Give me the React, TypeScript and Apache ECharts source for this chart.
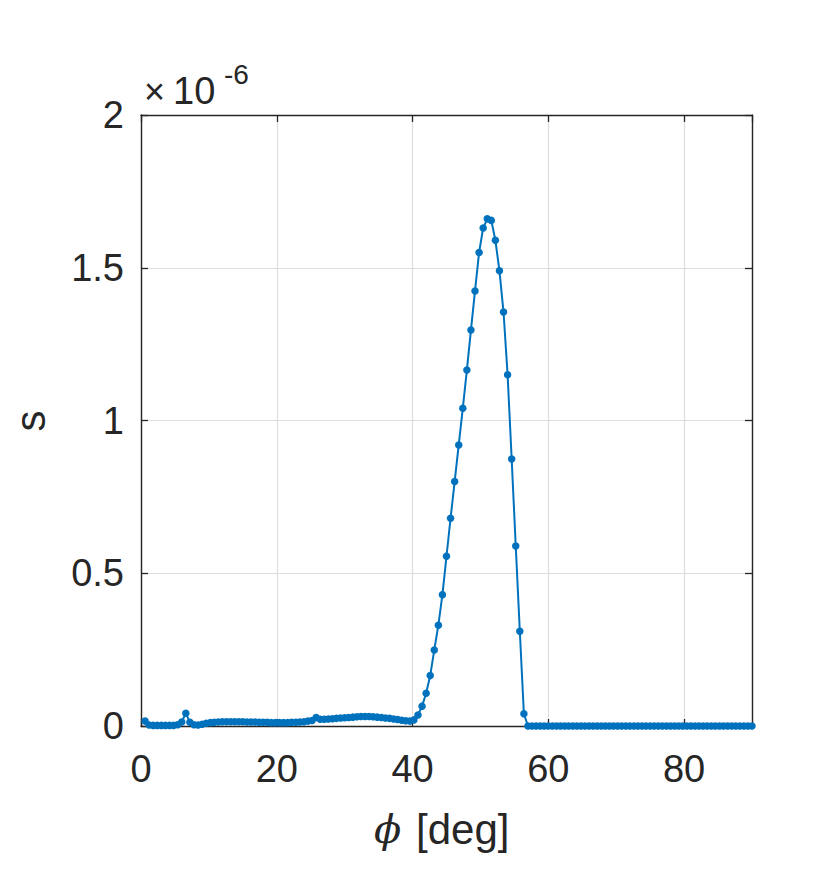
import React, { useEffect, useRef } from "react";
import * as echarts from "echarts";

// phi [deg]
const phiDeg: number[] = [
  0.6, 1.2, 1.8, 2.4, 3.0, 3.6, 4.2, 4.8, 5.4, 6.0,
  6.6, 7.2, 7.8, 8.4, 9.0, 9.6, 10.2, 10.8, 11.4, 12.0,
  12.6, 13.2, 13.8, 14.4, 15.0, 15.6, 16.2, 16.8, 17.4, 18.0,
  18.6, 19.2, 19.8, 20.4, 21.0, 21.6, 22.2, 22.8, 23.4, 24.0,
  24.6, 25.2, 25.8, 26.4, 27.0, 27.6, 28.2, 28.8, 29.4, 30.0,
  30.6, 31.2, 31.8, 32.4, 33.0, 33.6, 34.2, 34.8, 35.4, 36.0,
  36.6, 37.2, 37.8, 38.4, 39.0, 39.6, 40.2, 40.8, 41.4, 42.0,
  42.6, 43.2, 43.8, 44.4, 45.0, 45.6, 46.2, 46.8, 47.4, 48.0,
  48.6, 49.2, 49.8, 50.4, 51.0, 51.6, 52.2, 52.8, 53.4, 54.0,
  54.6, 55.2, 55.8, 56.4, 57.0, 57.6, 58.2, 58.8, 59.4, 60.0,
  60.6, 61.2, 61.8, 62.4, 63.0, 63.6, 64.2, 64.8, 65.4, 66.0,
  66.6, 67.2, 67.8, 68.4, 69.0, 69.6, 70.2, 70.8, 71.4, 72.0,
  72.6, 73.2, 73.8, 74.4, 75.0, 75.6, 76.2, 76.8, 77.4, 78.0,
  78.6, 79.2, 79.8, 80.4, 81.0, 81.6, 82.2, 82.8, 83.4, 84.0,
  84.6, 85.2, 85.8, 86.4, 87.0, 87.6, 88.2, 88.8, 89.4, 90.0,
];

// s, in units of 1e-6
const sValues: number[] = [
  0.016, 0.003, 0.002, 0.002, 0.002, 0.002, 0.002, 0.002, 0.004, 0.013,
  0.042, 0.012, 0.004, 0.003, 0.006, 0.009, 0.011, 0.012, 0.013, 0.014,
  0.014, 0.014, 0.014, 0.014, 0.014, 0.013, 0.013, 0.013, 0.012, 0.012,
  0.012, 0.011, 0.011, 0.011, 0.011, 0.011, 0.012, 0.012, 0.013, 0.014,
  0.016, 0.018, 0.028, 0.022, 0.022, 0.023, 0.024, 0.025, 0.026, 0.027,
  0.028, 0.029, 0.030, 0.031, 0.031, 0.031, 0.030, 0.029, 0.028, 0.026,
  0.025, 0.023, 0.021, 0.019, 0.017, 0.016, 0.020, 0.036, 0.065, 0.107,
  0.165, 0.249, 0.33, 0.43, 0.556, 0.68, 0.8, 0.92, 1.04, 1.165,
  1.296, 1.424, 1.55, 1.63, 1.66, 1.655, 1.59, 1.49, 1.355, 1.15,
  0.874, 0.589, 0.31, 0.04, 0, 0, 0, 0, 0, 0,
  0, 0, 0, 0, 0, 0, 0, 0, 0, 0,
  0, 0, 0, 0, 0, 0, 0, 0, 0, 0,
  0, 0, 0, 0, 0, 0, 0, 0, 0, 0,
  0, 0, 0, 0, 0, 0, 0, 0, 0, 0,
  0, 0, 0, 0, 0, 0, 0, 0, 0, 0,
];

const xTicks = { min: 0, max: 90, interval: 20 };
const yTicks = { min: 0, max: 2, interval: 0.5 };
const yExponentBase = "×";
const yExponentMantissa = "10";
const yExponent = "-6";
const xTitleSymbol = "ϕ";
const xTitleUnit = "[deg]";
const yTitle = "s";

const TEXT = "#262626";
const FONT = "'Liberation Sans', Arial, Helvetica, sans-serif";

export default function App() {
  const ref = useRef<HTMLDivElement>(null);
  useEffect(() => {
    if (!ref.current) return;
    const chart = echarts.init(ref.current, null, { renderer: "svg" });
    const axisLine = { show: true, onZero: false, lineStyle: { color: TEXT, width: 1.4 } };
    const axisTick = { show: true, inside: true, length: 7, lineStyle: { color: TEXT, width: 1.3 } };
    const splitLine = { show: true, lineStyle: { color: "#dedede", width: 1.2 } };
    const data = phiDeg.map((p, i) => [p, sValues[i]]);
    chart.setOption({
      animation: false,
      backgroundColor: "#ffffff",
      grid: { left: 141, top: 115, width: 611, height: 611, containLabel: false },
      xAxis: [
        {
          type: "value",
          position: "bottom",
          ...xTicks,
          axisLine,
          axisTick,
          splitLine,
          axisLabel: {
            show: true,
            margin: 24,
            color: TEXT,
            fontFamily: FONT,
            fontSize: 38,
            showMaxLabel: false,
            formatter: (v: number) => (v === 90 ? "" : String(v)),
          },
        },
        {
          type: "value",
          position: "top",
          ...xTicks,
          axisLine,
          axisTick,
          splitLine: { show: false },
          axisLabel: { show: false },
        },
      ],
      yAxis: [
        {
          type: "value",
          position: "left",
          ...yTicks,
          axisLine,
          axisTick,
          splitLine,
          axisLabel: {
            show: true,
            margin: 17,
            color: TEXT,
            fontFamily: FONT,
            fontSize: 38,
          },
        },
        {
          type: "value",
          position: "right",
          ...yTicks,
          axisLine,
          axisTick,
          splitLine: { show: false },
          axisLabel: { show: false },
        },
      ],
      series: [
        {
          type: "line",
          xAxisIndex: 0,
          yAxisIndex: 0,
          data,
          clip: false,
          symbol: "circle",
          symbolSize: 7.5,
          showAllSymbol: true,
          lineStyle: { color: "#0072BD", width: 2 },
          itemStyle: { color: "#0072BD" },
          emphasis: { disabled: true },
          z: 3,
        },
      ],
      graphic: [
        {
          type: "text",
          x: 144,
          y: 91,
          style: { text: yExponentBase, fill: TEXT, font: `36px ${FONT}`, textAlign: "left", textVerticalAlign: "middle" },
        },
        {
          type: "text",
          x: 173,
          y: 91,
          style: { text: yExponentMantissa, fill: TEXT, font: `38px ${FONT}`, textAlign: "left", textVerticalAlign: "middle" },
        },
        {
          type: "text",
          x: 224,
          y: 74,
          style: { text: yExponent, fill: TEXT, font: `28px ${FONT}`, textAlign: "left", textVerticalAlign: "middle" },
        },
        {
          type: "text",
          x: 374,
          y: 829,
          style: {
            text: xTitleSymbol,
            fill: TEXT,
            font: `italic 40px 'DejaVu Serif', 'Liberation Serif', serif`,
            textAlign: "left",
            textVerticalAlign: "middle",
          },
        },
        {
          type: "text",
          x: 416,
          y: 829,
          style: { text: xTitleUnit, fill: TEXT, font: `42px ${FONT}`, textAlign: "left", textVerticalAlign: "middle" },
        },
        {
          type: "text",
          x: 30,
          y: 421,
          rotation: Math.PI / 2,
          style: { text: yTitle, fill: TEXT, font: `42px ${FONT}`, textAlign: "center", textVerticalAlign: "middle" },
        },
      ],
    });
    return () => chart.dispose();
  }, []);
  return (
    <div
      ref={ref}
      style={{ position: "absolute", left: 0, top: 0, width: 830, height: 872, background: "#fff" }}
    />
  );
}
